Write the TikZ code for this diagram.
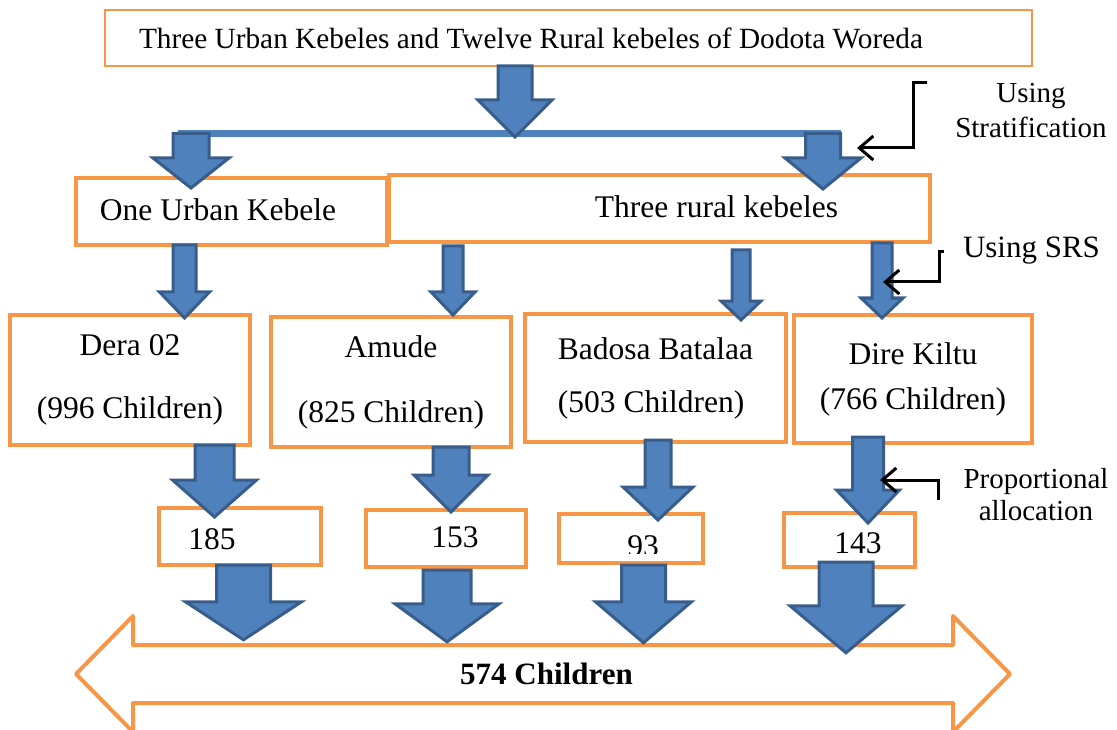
\documentclass[tikz,border=0pt]{standalone}
\usepackage{fontspec}
\setmainfont{Liberation Serif}
\usetikzlibrary{calc, arrows.meta}

\definecolor{boxorange}{HTML}{F79646}
\definecolor{arrowfill}{HTML}{4F81BD}
\definecolor{arrowedge}{HTML}{385D8A}

\begin{document}
\begin{tikzpicture}[x=1pt, y=-1pt,
		font=\fontsize{31.5}{36}\selectfont,
		obox/.style={rectangle, draw=boxorange, fill=white, line width=3.5pt, inner sep=0pt, outer sep=0pt},
		sidetext/.style={align=center, font=\fontsize{29}{#1}\selectfont},
		blockarrow/.style n args={3}{draw=arrowedge, fill=arrowfill, line width=3pt,
			to path={let \p1=(\tikztostart), \p2=(\tikztotarget) in
				(\x1-#1,\y1) -- (\x1-#1,\y2+#3) -- (\x1-#2,\y2+#3) -- (\x1,\y2)
				-- (\x1+#2,\y2+#3) -- (\x1+#1,\y2+#3) -- (\x1+#1,\y1) -- cycle}},
		elbow/.style={draw=black, line width=3pt, -{Straight Barb[length=14pt, width=24pt]}}]
	\useasboundingbox (0,0) rectangle (1117,730);

	% strata
	\node[obox, line width=1.5pt, minimum width=927, minimum height=56,
		label={[xshift=-37.5pt, font=\fontsize{29.3}{34}\selectfont]center:Three Urban Kebeles and Twelve Rural kebeles of Dodota Woreda}] (woreda) at (568.5,38) {};
	\node[obox, line width=4pt, minimum width=311, minimum height=67,
		label={[xshift=-13.5pt, yshift=2.25pt]center:One Urban Kebele}] (urban) at (231.5,211.5) {};
	\node[obox, minimum width=541, minimum height=67,
		label={[xshift=57pt, yshift=2.25pt]center:Three rural kebeles}] (rural) at (659.5,208.5) {};

	% kebeles
	\foreach \nm/\cx/\cy/\w/\h/\sk/\al/\ta/\tb in {
		dera/130/380/240/130/63/center/Dera 02/(996 Children),
		amude/391/382/240/130/65/center/Amude/(825 Children),
		badosa/655.5/378/261/128/53/left/Badosa Batalaa/(503 Children),
		dire/913/379/238/128/45/center/Dire Kiltu/(766 Children)} {
		\node[obox, minimum width=\w, minimum height=\h, align=\al,
			font=\fontsize{31.5}{\sk}\selectfont] (\nm) at (\cx,\cy) {\ta\\\tb};
	}

	% sample sizes
	\foreach \nm/\cx/\cy/\w/\h/\dx/\dy/\num in {
		n185/240/536.5/162/57/-28/-2.9/185,
		n153/446/538.5/160/57/9/1.1/153,
		n143/849.5/540/131/54/8.5/-3.4/143} {
		\node[obox, line width=4pt, minimum width=\w, minimum height=\h,
			label={[xshift=\dx pt, yshift=\dy pt]center:\num}] (\nm) at (\cx,\cy) {};
	}
	\node[obox, line width=4pt, minimum width=144, minimum height=49] (n93) at (631,538.5) {};
	\begin{scope}
		\clip ([xshift=-70pt]n93.north) rectangle ([xshift=70pt, yshift=10pt]n93.south);
		\node at ([xshift=12pt, yshift=-8pt]n93.center) {93};
	\end{scope}

	% total
	\draw[boxorange, line width=4pt, fill=white, line join=round]
		(76,674) -- (133,616) -- (133,645) -- (953,645) -- (953,616) -- (1010,674)
		-- (953,732) -- (953,703) -- (133,703) -- (133,732) -- cycle;
	\node[font=\fontsize{31}{36}\selectfont\bfseries, minimum height=58, inner sep=0pt] (total) at (546.5,674) {574 Children};

	% split bar
	\coordinate (split-l) at (178,133.5);
	\coordinate (split-r) at (841,133.5);
	\coordinate (split-c) at (515,137);
	\draw[arrowfill, line width=7pt] (split-l) -- (split-r);

	\draw[blockarrow={17}{37}{37}] ([xshift=-53.5pt]woreda.south) to (split-c);
	\draw[blockarrow={18}{38}{30}] ([xshift=13pt]split-l) to ([yshift=-10pt]urban.north);
	\draw[blockarrow={17.5}{38}{31}] ([xshift=-18pt]split-r) to ([yshift=-14pt]rural.north);

	\draw[blockarrow={11.5}{25}{26}] ([xshift=-47pt]urban.south) to ([yshift=-3pt]dera.north);
	\draw[blockarrow={10}{22}{23}] ([xshift=-206.5pt, yshift=-4pt]rural.south) to ([yshift=2pt]amude.north);
	\draw[blockarrow={9}{20}{19}] ([xshift=81.5pt, yshift=-8pt]rural.south) to ([yshift=-6pt]badosa.north);
	\draw[blockarrow={10}{21}{20}] ([xshift=222.5pt, yshift=-1pt]rural.south) to ([yshift=-3pt]dire.north);

	\draw[blockarrow={19.5}{42}{37}] ([xshift=84.5pt]dera.south) to ([yshift=-9pt]n185.north);
	\draw[blockarrow={18}{37}{37}] ([xshift=60pt]amude.south) to ([yshift=-2pt]n153.north);
	\draw[blockarrow={13}{35}{33}] ([xshift=2.5pt, yshift=2pt]badosa.south) to ([yshift=-6pt]n93.north);
	\draw[blockarrow={15.5}{31.5}{33}] ([xshift=-45pt, yshift=6pt]dire.south) to ([yshift=-10pt]n143.north);

	\draw[blockarrow={27}{58}{38}] ([xshift=3.5pt]n185.south) to ([yshift=5pt]total.north);
	\draw[blockarrow={24}{52}{38}] ([xshift=1pt, yshift=-3pt]n153.south) to ([yshift=3pt]total.north);
	\draw[blockarrow={22}{48}{41}] ([xshift=12.5pt, yshift=-2pt]n93.south) to ([yshift=2pt]total.north);
	\draw[blockarrow={27}{56}{47}] ([xshift=-3.5pt, yshift=5pt]n143.south) to ([yshift=-8pt]total.north);

	% methods
	\node[sidetext=35] (strat) at (1031,110.6) {Using\\Stratification};
	\node[font=\fontsize{31}{36}\selectfont] (srs) at (1031.5,250.7) {Using SRS};
	\node[sidetext=32] (prop) at (1036,494.1) {Proportional\\allocation};

	\coordinate (strat-a) at (927,83);
	\coordinate (strat-b) at (857,148);
	\coordinate (srs-a) at (944,252);
	\coordinate (srs-b) at (883,282);
	\coordinate (prop-a) at (938,500);
	\coordinate (prop-b) at (880,480);
	\draw[elbow] (strat-a) -- ++(-14,0) |- (strat-b);
	\draw[elbow] (srs-a) -- ++(-5,0) |- (srs-b);
	\draw[elbow] (prop-a) |- (prop-b);
\end{tikzpicture}
\end{document}
